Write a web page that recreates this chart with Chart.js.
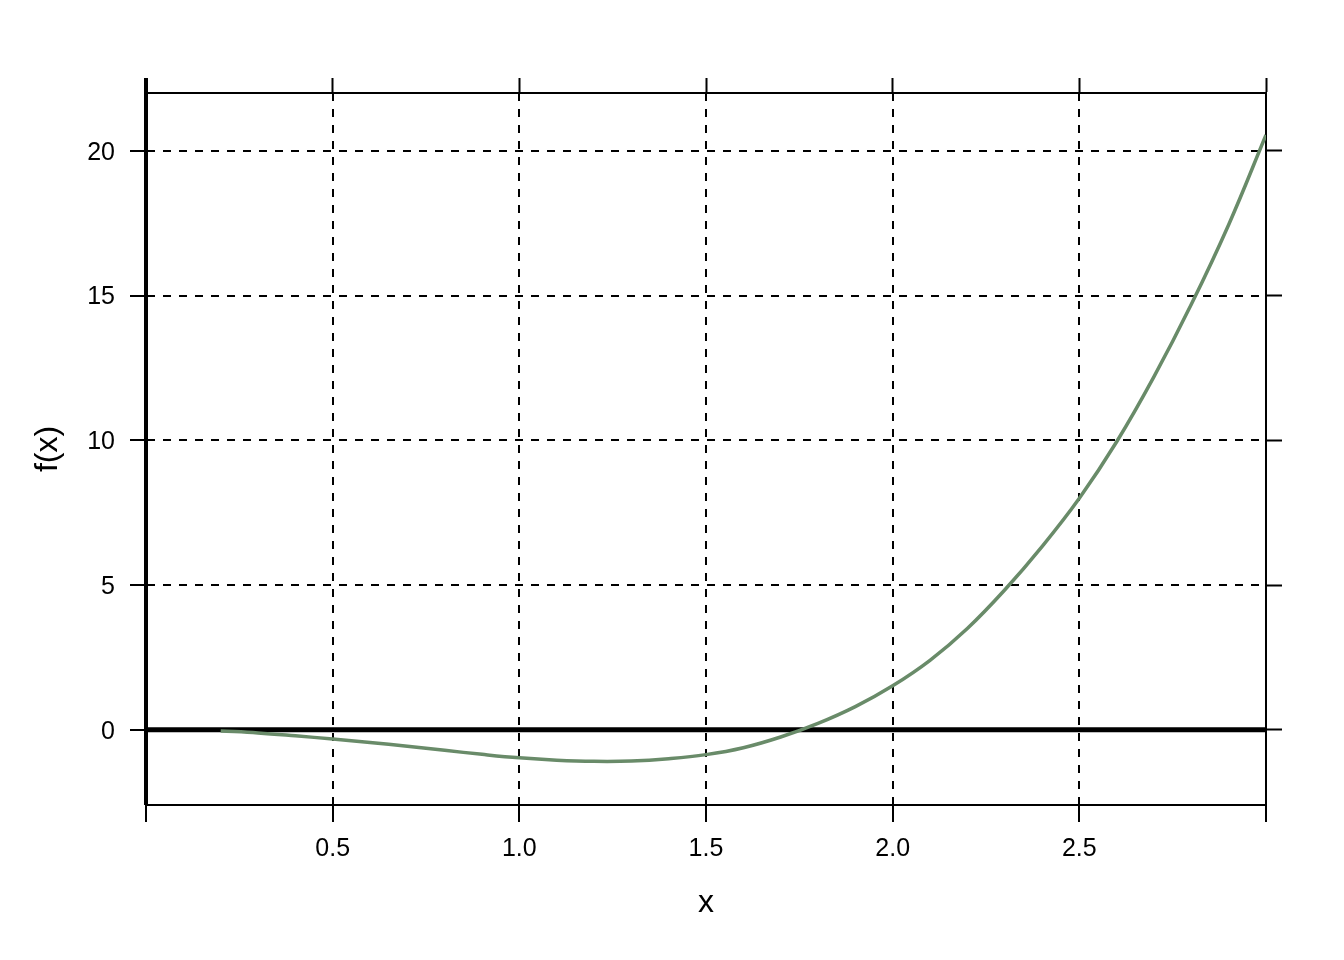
<!DOCTYPE html>
<html>
<head>
<meta charset="utf-8">
<script src="https://cdn.jsdelivr.net/npm/chart.js@4.4.1/dist/chart.umd.min.js"></script>
<style>
  html, body { margin: 0; padding: 0; background: #fff; }
  canvas { display: block; }
</style>
</head>
<body>
<canvas id="myChart" width="1344" height="960"></canvas>
<script>
  // Values
  var xValues = [0.2, 0.3, 0.4, 0.5, 0.6, 0.7, 0.8, 0.9, 1.0, 1.1, 1.2, 1.3, 1.4, 1.5, 1.6,
                 1.7, 1.8, 1.9, 2.0, 2.1, 2.2, 2.3, 2.4, 2.5, 2.6, 2.7, 2.8, 2.9, 3.0];
  var fValues = [-0.04, -0.11, -0.21, -0.32, -0.44, -0.57, -0.71, -0.85, -0.97, -1.05, -1.09, -1.08, -1.00, -0.86, -0.62,
                 -0.25, 0.22, 0.80, 1.52, 2.40, 3.50, 4.83, 6.33, 8.00, 9.95, 12.2, 14.7, 17.45, 20.55];

  var xTicks = [0, 0.5, 1, 1.5, 2, 2.5, 3];
  var xTickLabels = ['', '0.5', '1.0', '1.5', '2.0', '2.5', ''];
  var yTicks = [0, 5, 10, 15, 20];
  var yTickLabels = ['0', '5', '10', '15', '20'];

  var points = xValues.map(function (x, i) { return { x: x, y: fValues[i] }; });

  var tickFont = { family: 'Liberation Sans', size: 25 };
  var titleFont = { family: 'Liberation Sans', size: 32 };

  function setTicks(list) {
    return function (scale) {
      scale.ticks = list.map(function (v) { return { value: v }; });
    };
  }

  // thick lines at x = 0 and y = 0, drawn under the curve
  var zeroLines = {
    id: 'zeroLines',
    beforeDatasetsDraw: function (chart) {
      var ctx = chart.ctx, a = chart.chartArea;
      var x0 = chart.scales.x.getPixelForValue(0);
      var y0 = chart.scales.y.getPixelForValue(0);
      ctx.save();
      ctx.strokeStyle = '#000';
      ctx.lineWidth = 5;
      ctx.beginPath();
      ctx.moveTo(a.left, y0);
      ctx.lineTo(a.right, y0);
      ctx.stroke();
      ctx.lineWidth = 4;
      ctx.beginPath();
      ctx.moveTo(x0, a.top - 15);
      ctx.lineTo(x0, a.bottom);
      ctx.stroke();
      ctx.restore();
    }
  };

  var ctx = document.getElementById('myChart').getContext('2d');

  var chart = new Chart(ctx, {
    type: 'scatter',
    data: {
      datasets: [{
        data: points,
        showLine: true,
        borderColor: '#698B69',
        borderWidth: 3.5,
        pointRadius: 0,
        tension: 0.4,
        fill: false
      }]
    },
    options: {
      responsive: false,
      animation: false,
      devicePixelRatio: 1,
      layout: { padding: 0 },
      plugins: { legend: { display: false }, tooltip: { enabled: false } },
      scales: {
        x: {
          type: 'linear', position: 'bottom', min: 0, max: 3,
          afterBuildTicks: setTicks(xTicks),
          afterFit: function (s) { s.height = 155; },
          ticks: {
            font: tickFont, color: '#000', padding: 12, maxRotation: 0, autoSkip: false,
            callback: function (v) { return xTickLabels[xTicks.indexOf(v)]; }
          },
          grid: { color: '#000', lineWidth: 2, tickLength: 17, tickColor: '#000', tickWidth: 2 },
          border: { display: true, color: '#000', width: 2, dash: [8, 8] },
          title: { display: true, text: 'x', font: titleFont, color: '#000', padding: { top: 0, bottom: 38 } }
        },
        x2: {
          type: 'linear', axis: 'x', position: 'top', min: 0, max: 3,
          afterBuildTicks: setTicks(xTicks),
          afterFit: function (s) { s.height = 93; },
          ticks: { display: false },
          grid: { drawOnChartArea: false, tickLength: 15, tickColor: '#000', tickWidth: 2 },
          border: { display: true, color: '#000', width: 2 }
        },
        y: {
          type: 'linear', position: 'left', min: -2.6, max: 22,
          afterBuildTicks: setTicks(yTicks),
          afterFit: function (s) { s.width = 146; },
          ticks: {
            font: tickFont, color: '#000', padding: 15, labelOffset: 2,
            callback: function (v) { return yTickLabels[yTicks.indexOf(v)]; }
          },
          grid: { color: '#000', lineWidth: 2, tickLength: 16, tickColor: '#000', tickWidth: 2 },
          border: { display: true, color: '#000', width: 2, dash: [8, 8] },
          title: { display: true, text: 'f(x)', font: titleFont, color: '#000', padding: { top: 29, bottom: 0 } }
        },
        y2: {
          type: 'linear', axis: 'y', position: 'right', min: -2.6, max: 22,
          afterBuildTicks: setTicks(yTicks),
          afterFit: function (s) { s.width = 78; },
          ticks: { display: false },
          grid: { drawOnChartArea: false, tickLength: 16, tickColor: '#000', tickWidth: 2 },
          border: { display: true, color: '#000', width: 2 }
        }
      }
    },
    plugins: [zeroLines]
  });
</script>
</body>
</html>
